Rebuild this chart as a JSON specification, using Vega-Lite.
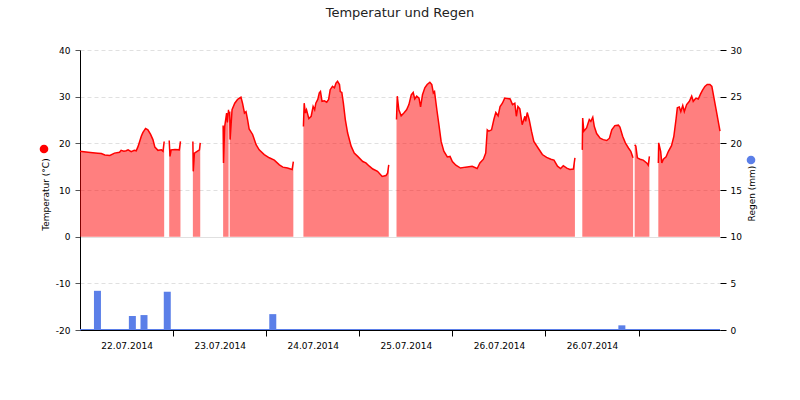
{
  "$schema": "https://vega.github.io/schema/vega-lite/v6.json",
  "width": 640,
  "height": 280,
  "autosize": {"type": "none"},
  "padding": {"left": 80, "top": 50, "right": 80, "bottom": 70},
  "title": {"text": "Temperatur und Regen", "fontSize": 13, "font": "DejaVu Sans", "fontWeight": "normal", "color": "#222", "frame": "group", "anchor": "middle", "offset": 26},
  "config": {
    "view": {"stroke": null},
    "font": "DejaVu Sans",
    "axis": {"labelFont": "DejaVu Sans", "titleFont": "DejaVu Sans", "labelColor": "#000", "titleColor": "#000", "labelFontSize": 9, "titleFontSize": 9, "titleFontWeight": "normal"},
    "legend": {"labelFont": "DejaVu Sans"}
  },
  "encoding": {
    "x": {
      "field": "h", "type": "quantitative",
      "scale": {"domain": [0, 165], "nice": false, "zero": false, "padding": 0},
      "axis": {
        "values": [24, 48, 72, 96, 120, 144],
        "labelExpr": "datum.value == 24 ? '22.07.2014' : datum.value == 48 ? '23.07.2014' : datum.value == 72 ? '24.07.2014' : datum.value == 96 ? '25.07.2014' : '26.07.2014'",
        "labelOffset": -46.5,
        "labelFlush": false,
        "labelOverlap": false,
        "grid": false,
        "domainColor": "#000",
        "tickColor": "#000",
        "tickSize": 6,
        "labelPadding": 5,
        "title": null,
        "zindex": 1
      }
    }
  },
  "layer": [
    {
      "data": {"values": [
        {"h": 0, "temp": 18.3}, {"h": 1.0, "temp": 18.2}, {"h": 2.1, "temp": 18.1}, {"h": 3.3, "temp": 18.0}, {"h": 4.6, "temp": 17.9}, {"h": 5.5, "temp": 17.8}, {"h": 6.4, "temp": 17.5}, {"h": 7.7, "temp": 17.4}, {"h": 8.9, "temp": 17.9}, {"h": 10.2, "temp": 18.1}, {"h": 10.6, "temp": 18.5}, {"h": 11.3, "temp": 18.3}, {"h": 11.9, "temp": 18.4}, {"h": 12.4, "temp": 18.6}, {"h": 13.2, "temp": 18.2}, {"h": 14.0, "temp": 18.5}, {"h": 14.5, "temp": 18.4}, {"h": 15.0, "temp": 19.4}, {"h": 15.8, "temp": 21.5}, {"h": 16.2, "temp": 22.3}, {"h": 16.9, "temp": 23.2}, {"h": 17.5, "temp": 22.9}, {"h": 18.2, "temp": 21.9}, {"h": 18.8, "temp": 20.8}, {"h": 19.3, "temp": 19.2}, {"h": 20.1, "temp": 18.5}, {"h": 21.0, "temp": 18.6}, {"h": 21.4, "temp": 18.3}, {"h": 21.7, "temp": 20.4},
        {"h": 22.3, "temp": null},
        {"h": 23.0, "temp": 20.6}, {"h": 23.2, "temp": 17.2}, {"h": 23.5, "temp": 18.6}, {"h": 24.5, "temp": 18.7}, {"h": 25.6, "temp": 18.6}, {"h": 25.9, "temp": 20.4},
        {"h": 27.5, "temp": null},
        {"h": 29.1, "temp": 20.4}, {"h": 29.2, "temp": 14.0}, {"h": 29.5, "temp": 17.9}, {"h": 30.2, "temp": 18.3}, {"h": 30.8, "temp": 18.6}, {"h": 31.0, "temp": 20.1},
        {"h": 34.0, "temp": null},
        {"h": 36.9, "temp": 23.8}, {"h": 37.0, "temp": 15.8}, {"h": 37.3, "temp": 23.6}, {"h": 37.8, "temp": 26.5}, {"h": 38.0, "temp": 24.5}, {"h": 38.3, "temp": 27.2},
        {"h": 38.45, "temp": null},
        {"h": 38.6, "temp": 26.8}, {"h": 38.7, "temp": 20.8}, {"h": 39.2, "temp": 27.2}, {"h": 39.9, "temp": 28.6}, {"h": 40.6, "temp": 29.4}, {"h": 41.1, "temp": 29.7}, {"h": 41.5, "temp": 29.9}, {"h": 41.9, "temp": 28.6}, {"h": 42.4, "temp": 26.5}, {"h": 42.8, "temp": 26.8}, {"h": 43.2, "temp": 25.1}, {"h": 43.6, "temp": 23.1}, {"h": 44.5, "temp": 21.9}, {"h": 45.4, "temp": 19.7}, {"h": 46.2, "temp": 18.6}, {"h": 47.5, "temp": 17.6}, {"h": 48.8, "temp": 16.9}, {"h": 50.1, "temp": 16.4}, {"h": 51.4, "temp": 15.4}, {"h": 52.3, "temp": 14.9}, {"h": 53.5, "temp": 14.7}, {"h": 54.7, "temp": 14.4}, {"h": 55.0, "temp": 16.1},
        {"h": 56.0, "temp": null},
        {"h": 57.6, "temp": 23.6}, {"h": 57.8, "temp": 28.6}, {"h": 58.1, "temp": 26.5}, {"h": 58.4, "temp": 27.2}, {"h": 59.0, "temp": 25.3}, {"h": 59.6, "temp": 25.8}, {"h": 60.1, "temp": 27.9}, {"h": 60.5, "temp": 27.2}, {"h": 60.8, "temp": 28.6}, {"h": 61.3, "temp": 29.4}, {"h": 61.7, "temp": 30.8}, {"h": 62.0, "temp": 31.1}, {"h": 62.4, "temp": 29.0}, {"h": 63.0, "temp": 29.1}, {"h": 63.6, "temp": 28.8}, {"h": 64.1, "temp": 29.4}, {"h": 64.5, "temp": 31.5}, {"h": 65.1, "temp": 32.2}, {"h": 65.6, "temp": 31.9}, {"h": 66.0, "temp": 32.9}, {"h": 66.4, "temp": 33.3}, {"h": 66.9, "temp": 32.6}, {"h": 67.1, "temp": 31.1}, {"h": 67.5, "temp": 30.9}, {"h": 67.9, "temp": 28.6}, {"h": 68.4, "temp": 25.1}, {"h": 69.0, "temp": 22.2}, {"h": 69.9, "temp": 19.4}, {"h": 70.7, "temp": 17.9}, {"h": 71.6, "temp": 17.2}, {"h": 72.9, "temp": 16.1}, {"h": 73.7, "temp": 15.8}, {"h": 74.6, "temp": 15.1}, {"h": 75.5, "temp": 14.5}, {"h": 76.7, "temp": 14.0}, {"h": 77.9, "temp": 12.9}, {"h": 78.9, "temp": 13.1}, {"h": 79.3, "temp": 13.6}, {"h": 79.6, "temp": 15.4},
        {"h": 80.5, "temp": null},
        {"h": 81.6, "temp": 25.1}, {"h": 81.8, "temp": 30.1}, {"h": 82.2, "temp": 27.2}, {"h": 82.8, "temp": 25.9}, {"h": 83.5, "temp": 26.5}, {"h": 84.2, "temp": 27.2}, {"h": 84.8, "temp": 28.3}, {"h": 85.4, "temp": 30.4}, {"h": 85.9, "temp": 30.9}, {"h": 86.3, "temp": 29.5}, {"h": 86.8, "temp": 30.1}, {"h": 87.4, "temp": 29.7}, {"h": 87.8, "temp": 27.8}, {"h": 88.3, "temp": 30.4}, {"h": 88.9, "temp": 31.9}, {"h": 89.5, "temp": 32.6}, {"h": 90.2, "temp": 33.1}, {"h": 90.7, "temp": 32.6}, {"h": 91.1, "temp": 30.8}, {"h": 91.4, "temp": 31.1}, {"h": 92.0, "temp": 27.2}, {"h": 92.6, "temp": 23.6}, {"h": 93.1, "temp": 20.4}, {"h": 93.8, "temp": 18.3}, {"h": 94.7, "temp": 17.1}, {"h": 95.4, "temp": 17.2}, {"h": 96.0, "temp": 16.1}, {"h": 96.9, "temp": 15.3}, {"h": 98.1, "temp": 14.7}, {"h": 99.4, "temp": 14.9}, {"h": 101.1, "temp": 15.1}, {"h": 102.4, "temp": 14.6}, {"h": 103.1, "temp": 15.8}, {"h": 104.0, "temp": 16.6}, {"h": 104.6, "temp": 17.9}, {"h": 105.0, "temp": 22.9}, {"h": 105.4, "temp": 22.6}, {"h": 106.1, "temp": 22.9}, {"h": 106.7, "temp": 25.1}, {"h": 107.2, "temp": 26.6}, {"h": 107.8, "temp": 25.9}, {"h": 108.3, "temp": 27.9}, {"h": 108.9, "temp": 28.6}, {"h": 109.5, "temp": 29.7}, {"h": 110.2, "temp": 29.6}, {"h": 110.9, "temp": 29.5}, {"h": 111.5, "temp": 28.3}, {"h": 112.1, "temp": 28.6}, {"h": 112.5, "temp": 25.8}, {"h": 112.9, "temp": 27.9}, {"h": 113.4, "temp": 27.4}, {"h": 114.0, "temp": 24.0}, {"h": 114.7, "temp": 25.8}, {"h": 114.9, "temp": 24.7}, {"h": 115.3, "temp": 26.6}, {"h": 115.8, "temp": 25.1}, {"h": 116.4, "temp": 22.6}, {"h": 117.0, "temp": 20.4}, {"h": 118.1, "temp": 19.0}, {"h": 119.2, "temp": 17.6}, {"h": 120.3, "temp": 17.0}, {"h": 121.4, "temp": 16.6}, {"h": 122.2, "temp": 16.4}, {"h": 123.1, "temp": 15.1}, {"h": 123.9, "temp": 14.6}, {"h": 124.6, "temp": 15.2}, {"h": 125.5, "temp": 14.7}, {"h": 126.3, "temp": 14.4}, {"h": 127.2, "temp": 14.5}, {"h": 127.6, "temp": 16.9},
        {"h": 128.5, "temp": null},
        {"h": 129.5, "temp": 18.6}, {"h": 129.6, "temp": 25.4}, {"h": 129.9, "temp": 22.6}, {"h": 130.6, "temp": 23.3}, {"h": 131.3, "temp": 25.1}, {"h": 131.7, "temp": 24.7}, {"h": 132.2, "temp": 25.6}, {"h": 132.6, "temp": 23.6}, {"h": 133.2, "temp": 22.1}, {"h": 134.1, "temp": 21.1}, {"h": 134.9, "temp": 20.8}, {"h": 135.8, "temp": 20.6}, {"h": 136.5, "temp": 21.1}, {"h": 137.1, "temp": 22.9}, {"h": 137.9, "temp": 23.8}, {"h": 138.8, "temp": 23.9}, {"h": 139.2, "temp": 23.5}, {"h": 139.9, "temp": 21.5}, {"h": 140.6, "temp": 20.1}, {"h": 141.4, "temp": 19.0}, {"h": 142.0, "temp": 18.3}, {"h": 142.5, "temp": 17.1}, {"h": 142.6, "temp": 16.9},
        {"h": 142.8, "temp": null},
        {"h": 143.0, "temp": 19.7}, {"h": 143.3, "temp": 19.4}, {"h": 143.7, "temp": 16.9}, {"h": 144.4, "temp": 16.6}, {"h": 145.2, "temp": 16.4}, {"h": 146.1, "temp": 15.8}, {"h": 146.5, "temp": 15.3}, {"h": 146.8, "temp": 17.2},
        {"h": 148.0, "temp": null},
        {"h": 149.1, "temp": 15.8}, {"h": 149.2, "temp": 20.1}, {"h": 149.7, "temp": 18.3}, {"h": 150.0, "temp": 15.8}, {"h": 150.4, "temp": 16.6}, {"h": 151.1, "temp": 17.1}, {"h": 151.7, "temp": 18.3}, {"h": 152.5, "temp": 19.5}, {"h": 153.1, "temp": 21.5}, {"h": 153.7, "temp": 25.4}, {"h": 154.0, "temp": 27.6}, {"h": 154.5, "temp": 27.8}, {"h": 154.9, "temp": 26.8}, {"h": 155.4, "temp": 28.1}, {"h": 155.8, "temp": 26.8}, {"h": 156.4, "temp": 28.3}, {"h": 157.1, "temp": 29.0}, {"h": 157.7, "temp": 30.1}, {"h": 158.1, "temp": 29.0}, {"h": 158.8, "temp": 29.7}, {"h": 159.4, "temp": 29.5}, {"h": 160.0, "temp": 30.6}, {"h": 160.5, "temp": 31.4}, {"h": 161.1, "temp": 32.2}, {"h": 161.7, "temp": 32.6}, {"h": 162.4, "temp": 32.6}, {"h": 162.9, "temp": 32.2}, {"h": 163.3, "temp": 30.4}, {"h": 164.0, "temp": 27.2}, {"h": 164.7, "temp": 24.0}, {"h": 165.0, "temp": 22.6}
      ]},
      "layer": [
        {
          "mark": {"type": "area", "fillOpacity": 0.5, "invalid": "break-paths-show-domains"},
          "encoding": {
            "y": {
              "field": "temp", "type": "quantitative", "stack": false,
              "scale": {"domain": [-20, 40], "nice": false},
              "axis": {
                "orient": "left",
                "values": [-20, -10, 0, 10, 20, 30, 40],
                "labelExpr": "toString(datum.value)",
                "title": "Temperatur (°C)",
                "titleY": 144,
                "grid": true,
                "gridColor": "#e0e0e0",
                "gridDash": {"condition": {"test": "datum.value === 0", "value": []}, "value": [4, 3]},
                "domainColor": "#000",
                "tickColor": "#555",
                "tickSize": 5,
                "labelPadding": 5,
                "titlePadding": 5
              }
            },
            "color": {
              "datum": "Temperatur",
              "scale": {"range": ["#ff0000"]},
              "legend": {"orient": "none", "legendX": -41, "legendY": 94, "title": null, "labelExpr": "''", "symbolType": "circle", "symbolSize": 75, "symbolStrokeWidth": 0, "padding": 0}
            }
          }
        },
        {
          "mark": {"type": "line", "color": "#ff0000", "strokeWidth": 1.5, "invalid": "break-paths-show-domains"},
          "encoding": {"y": {"field": "temp", "type": "quantitative"}}
        }
      ]
    },
    {
      "data": {"values": [
        {"h": 4.5, "regen": 4.2},
        {"h": 13.5, "regen": 1.5},
        {"h": 16.5, "regen": 1.6},
        {"h": 22.5, "regen": 4.1},
        {"h": 49.7, "regen": 1.7},
        {"h": 139.7, "regen": 0.5}
      ]},
      "layer": [
        {
          "mark": {"type": "bar", "size": 7},
          "encoding": {
            "y": {
              "field": "regen", "type": "quantitative",
              "scale": {"domain": [0, 30], "nice": false},
              "axis": {
                "orient": "right",
                "values": [0, 5, 10, 15, 20, 25, 30],
                "title": "Regen (mm)",
                "titleAngle": 270,
                "titleY": 143,
                "grid": false,
                "domain": false,
                "tickColor": "#000",
                "tickSize": 6,
                "labelPadding": 4,
                "titlePadding": 15
              }
            },
            "color": {
              "datum": "Regen",
              "scale": {"range": ["#5b7fe8"]},
              "legend": {"orient": "none", "legendX": 666, "legendY": 105, "title": null, "labelExpr": "''", "symbolType": "circle", "symbolSize": 75, "symbolStrokeWidth": 0, "padding": 0}
            }
          }
        },
        {
          "mark": {"type": "rule", "color": "#5b7fe8", "strokeWidth": 1.5},
          "encoding": {
            "x": {"datum": 0, "type": "quantitative"},
            "x2": {"datum": 165},
            "y": {"datum": 0, "type": "quantitative"}
          }
        }
      ]
    }
  ],
  "resolve": {"scale": {"y": "independent", "color": "independent"}}
}
